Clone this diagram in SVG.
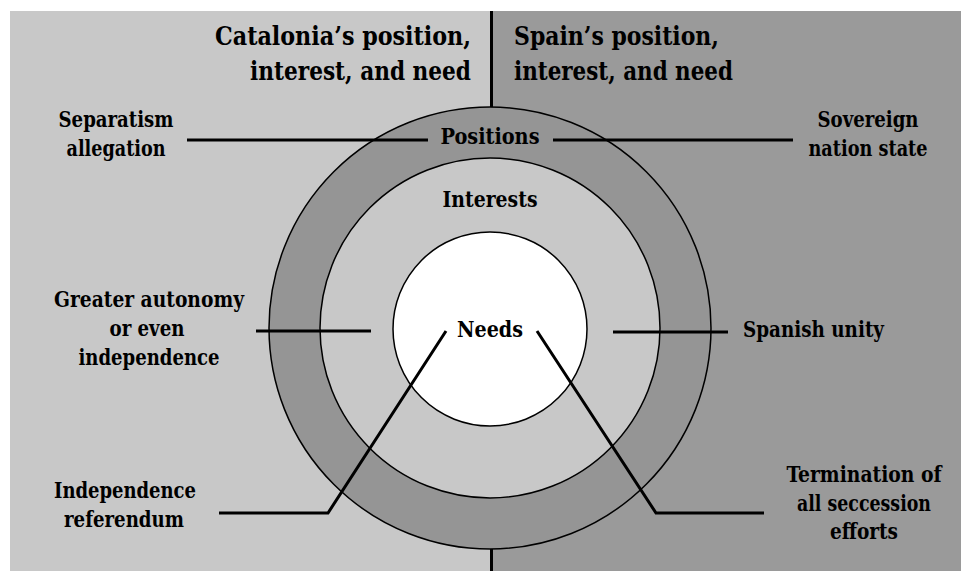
<svg xmlns="http://www.w3.org/2000/svg" width="961" height="571" viewBox="0 0 961 571">
<style>
text{font-family:'DejaVu Serif Condensed','DejaVu Serif','Liberation Serif',serif;font-weight:700;fill:#000;}
.h{font-size:26px;}
.l{font-size:22px;text-anchor:middle;}
.ln{stroke:#000;stroke-width:3;fill:none;}
.c{stroke:#000;stroke-width:1.5;}
</style>
<rect x="0" y="0" width="961" height="571" fill="#ffffff"/>
<g id="panels">
<rect x="10" y="11" width="481" height="560" fill="#c8c8c8"/>
<rect x="491" y="11" width="470" height="560" fill="#9a9a9a"/>
</g>
<g id="divider">
<line x1="491.5" y1="11" x2="491.5" y2="107" class="ln"/>
<line x1="491.5" y1="549" x2="491.5" y2="571" class="ln"/>
</g>
<g id="positions">
<circle cx="490" cy="328" r="221" fill="#959595" class="c"/>
<text x="490" y="144" class="l" textLength="99" lengthAdjust="spacingAndGlyphs">Positions</text>
</g>
<g id="interests">
<circle cx="490" cy="328" r="170" fill="#c8c8c8" class="c"/>
<text x="490" y="207" class="l" textLength="95" lengthAdjust="spacingAndGlyphs">Interests</text>
</g>
<g id="needs">
<circle cx="490" cy="329" r="97" fill="#ffffff" class="c"/>
<text x="490" y="337" class="l" textLength="66" lengthAdjust="spacingAndGlyphs">Needs</text>
</g>
<g id="headings">
<text x="471" y="45" class="h" text-anchor="end" textLength="256" lengthAdjust="spacingAndGlyphs">Catalonia’s position,</text>
<text x="471" y="80" class="h" text-anchor="end" textLength="221" lengthAdjust="spacingAndGlyphs">interest, and need</text>
<text x="514" y="45" class="h" textLength="205" lengthAdjust="spacingAndGlyphs">Spain’s position,</text>
<text x="514" y="80" class="h" textLength="219" lengthAdjust="spacingAndGlyphs">interest, and need</text>
</g>
<g id="connectors">
<line x1="187" y1="140" x2="428" y2="140" class="ln"/>
<line x1="553" y1="140" x2="793" y2="140" class="ln"/>
<line x1="256" y1="331" x2="371" y2="331" class="ln"/>
<line x1="613" y1="332" x2="728" y2="332" class="ln"/>
<polyline points="219,513 328,513 446,331" class="ln"/>
<polyline points="537,331 656,513 764,513" class="ln"/>
</g>
<g id="label-separatism">
<text x="116" y="127" class="l" textLength="115" lengthAdjust="spacingAndGlyphs">Separatism</text>
<text x="116" y="156" class="l" textLength="99" lengthAdjust="spacingAndGlyphs">allegation</text>
</g>
<g id="label-sovereign">
<text x="868" y="127" class="l" textLength="101" lengthAdjust="spacingAndGlyphs">Sovereign</text>
<text x="868" y="156" class="l" textLength="119" lengthAdjust="spacingAndGlyphs">nation state</text>
</g>
<g id="label-autonomy">
<text x="149" y="307" class="l" textLength="190" lengthAdjust="spacingAndGlyphs">Greater autonomy</text>
<text x="147" y="336" class="l" textLength="75" lengthAdjust="spacingAndGlyphs">or even</text>
<text x="149" y="365" class="l" textLength="141" lengthAdjust="spacingAndGlyphs">independence</text>
</g>
<g id="label-unity">
<text x="743" y="337" font-size="22" textLength="141" lengthAdjust="spacingAndGlyphs">Spanish unity</text>
</g>
<g id="label-referendum">
<text x="125" y="498" class="l" textLength="142" lengthAdjust="spacingAndGlyphs">Independence</text>
<text x="124" y="527" class="l" textLength="120" lengthAdjust="spacingAndGlyphs">referendum</text>
</g>
<g id="label-termination">
<text x="864" y="482" class="l" textLength="155" lengthAdjust="spacingAndGlyphs">Termination of</text>
<text x="864" y="511" class="l" textLength="134" lengthAdjust="spacingAndGlyphs">all seccession</text>
<text x="864" y="539" class="l" textLength="68" lengthAdjust="spacingAndGlyphs">efforts</text>
</g>
</svg>
